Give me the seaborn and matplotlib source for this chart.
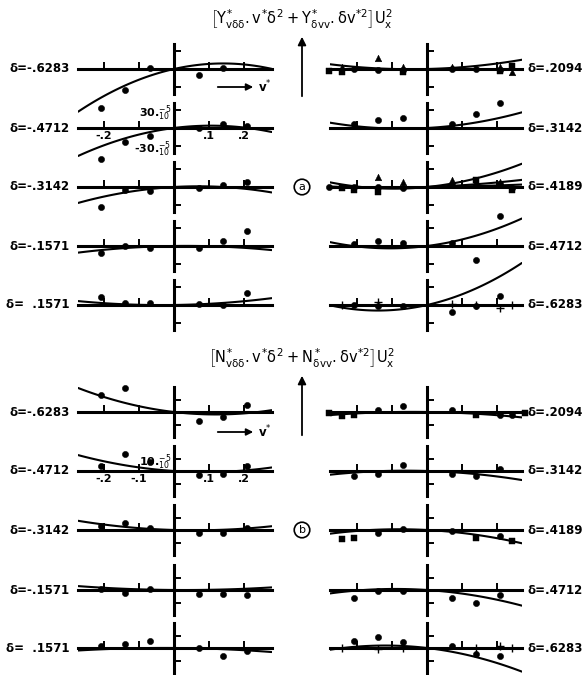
import numpy as np
import seaborn as sns
import matplotlib.pyplot as plt
from matplotlib.patches import FancyArrowPatch

sns.set_theme(style="white")
plt.rcParams["font.family"] = ["DejaVu Sans"]
plt.rcParams["mathtext.fontset"] = "custom"
plt.rcParams["mathtext.rm"] = "DejaVu Sans"
plt.rcParams["mathtext.it"] = "DejaVu Sans"
plt.rcParams["mathtext.bf"] = "DejaVu Sans:bold"
for k in ["text.color", "axes.labelcolor", "xtick.color", "ytick.color"]:
    plt.rcParams[k] = "black"

# DATA (y values in units of 1e-5, nan = no point)

nan = np.nan
v_grid = [-0.279, -0.244, -0.209, -0.140, -0.070, 0.070, 0.140, 0.209, 0.244, 0.279]

# model coefficients
Y_vdd, Y_dvv = 333, 745
N_vdd, N_dvv = -83, -217
# extra (flatter) fits drawn in the delta=.4189 panel of part (a)
a_p4189_extra = [(120, 200), (40, 70)]

# (a) left column
a_m6283 = [nan, nan, -65, -35, 2, -10, 2, nan, nan, nan]
a_m4712 = [nan, nan, -52, -23, -13, 0, 7, 3, nan, nan]
a_m3142 = [nan, nan, -33, -5, -7, -2, 3, 8, nan, nan]
a_m1571 = [nan, nan, -12, 0, -3, -3, 8, 25, nan, nan]
a_p1571 = [nan, nan, 13, 3, 3, 2, 0, 20, nan, nan]
# (a) right column
a_p2094_dot = [nan, nan, 0, -2, -2, 0, 0, -2, nan, nan]
a_p2094_tri = [nan, 3, nan, 18, 3, 3, nan, 3, -5, nan]
a_p2094_sq = [-3, -5, nan, nan, -5, nan, nan, -3, 5, nan]
a_p3142_dot = [nan, nan, 7, 13, 17, 7, 23, 42, nan, nan]
a_p4189_dot = [0, nan, 0, 0, -2, 3, 3, 5, -2, nan]
a_p4189_tri = [nan, nan, nan, 17, 8, 12, nan, 8, nan, nan]
a_p4189_sq = [nan, -2, -5, -8, nan, nan, 12, nan, -5, nan]
a_p4712_dot = [nan, nan, 3, 8, 5, 5, -23, 50, nan, nan]
a_p6283_dot = [nan, nan, 0, -2, -2, -12, -2, 15, nan, nan]
a_p6283_plus = [nan, 0, nan, 5, nan, 2, 0, -5, 0, nan]

# (b) left column
b_m6283 = [nan, nan, 14, 19, nan, -7, -4, 6, nan, nan]
b_m4712 = [nan, nan, 4, 14, 7, -3, -2, 4, nan, nan]
b_m3142 = [nan, nan, 3, 6, 2, -2, -2, 2, nan, nan]
b_m1571 = [nan, nan, 1, -2, 1, -3, -3, -4, nan, nan]
b_p1571 = [nan, nan, 2, 3, 6, 0, -6, -2, nan, nan]
# (b) right column
b_p2094_dot = [nan, nan, nan, 2, 5, 2, nan, -2, -2, nan]
b_p2094_sq = [-1, -3, -2, nan, nan, nan, -2, nan, nan, -1]
b_p3142_dot = [nan, nan, -4, -2, 5, -2, -4, 2, nan, nan]
b_p4189_dot = [nan, nan, nan, -2, 1, -1, nan, -5, nan, nan]
b_p4189_sq = [nan, -7, -6, nan, nan, nan, -6, nan, -9, nan]
b_p4712_dot = [nan, nan, -6, -1, -1, -6, -10, -4, nan, nan]
b_p6283_dot = [nan, nan, 6, 9, 5, 2, -5, -6, nan, nan]
b_p6283_plus = [nan, 0, nan, -1, 0, nan, 0, 2, 0, nan]

# LAYOUT (pixels of the 586x675 picture)

W, H = 586, 675
PX_PER_V = 350  # pixels per unit of v*
col_x = [174, 427]
col_xlim = [(-0.274, 0.279), (-0.277, 0.271)]
rows = {"a": [69, 128, 187, 246, 305], "b": [412, 471, 530, 590, 648]}
part_cfg = {
    "a": dict(ppu=0.6, ylim=80, tick=30, spine=42, coef=(Y_vdd, Y_dvv)),
    "b": dict(ppu=1.25, ylim=36, tick=10, spine=20, coef=(N_vdd, N_dvv)),
}

panels = [
    ("a", 0, 0, -0.6283, "δ=-.6283", {"o": a_m6283}),
    ("a", 0, 1, -0.4712, "δ=-.4712", {"o": a_m4712}),
    ("a", 0, 2, -0.3142, "δ=-.3142", {"o": a_m3142}),
    ("a", 0, 3, -0.1571, "δ=-.1571", {"o": a_m1571}),
    ("a", 0, 4, 0.1571, "δ=  .1571", {"o": a_p1571}),
    ("a", 1, 0, 0.2094, "δ=.2094", {"o": a_p2094_dot, "^": a_p2094_tri, "s": a_p2094_sq}),
    ("a", 1, 1, 0.3142, "δ=.3142", {"o": a_p3142_dot}),
    ("a", 1, 2, 0.4189, "δ=.4189", {"o": a_p4189_dot, "^": a_p4189_tri, "s": a_p4189_sq}),
    ("a", 1, 3, 0.4712, "δ=.4712", {"o": a_p4712_dot}),
    ("a", 1, 4, 0.6283, "δ=.6283", {"o": a_p6283_dot, "+": a_p6283_plus}),
    ("b", 0, 0, -0.6283, "δ=-.6283", {"o": b_m6283}),
    ("b", 0, 1, -0.4712, "δ=-.4712", {"o": b_m4712}),
    ("b", 0, 2, -0.3142, "δ=-.3142", {"o": b_m3142}),
    ("b", 0, 3, -0.1571, "δ=-.1571", {"o": b_m1571}),
    ("b", 0, 4, 0.1571, "δ=  .1571", {"o": b_p1571}),
    ("b", 1, 0, 0.2094, "δ=.2094", {"o": b_p2094_dot, "s": b_p2094_sq}),
    ("b", 1, 1, 0.3142, "δ=.3142", {"o": b_p3142_dot}),
    ("b", 1, 2, 0.4189, "δ=.4189", {"o": b_p4189_dot, "s": b_p4189_sq}),
    ("b", 1, 3, 0.4712, "δ=.4712", {"o": b_p4712_dot}),
    ("b", 1, 4, 0.6283, "δ=.6283", {"o": b_p6283_dot, "+": b_p6283_plus}),
]
extra_curves = {("a", 1, 2): a_p4189_extra}

marker_kw = {
    "o": dict(marker="o", s=20),
    "^": dict(marker="^", s=22),
    "s": dict(marker="s", s=16),
    "+": dict(marker="+", s=30, linewidth=1.0),
}

# FIGURE

fig = plt.figure(figsize=(W / 100, H / 100), dpi=100)


def fx(x):
    return x / W


def fy(y):
    return 1 - y / H


for part, col, row, delta, label, series in panels:
    cfg = part_cfg[part]
    base = rows[part][row]
    x0, x1 = col_xlim[col]
    half = cfg["ylim"] * cfg["ppu"]
    left = col_x[col] + x0 * PX_PER_V
    ax = fig.add_axes([fx(left), (H - base - half) / H, (x1 - x0) * PX_PER_V / W, 2 * half / H])
    ax.set_xlim(x0, x1)
    ax.set_ylim(-cfg["ylim"], cfg["ylim"])
    ax.patch.set_alpha(0)

    # axes drawn as crossing lines through the origin
    for s in ["top", "right"]:
        ax.spines[s].set_visible(False)
    ax.spines["bottom"].set_position(("data", 0))
    ax.spines["left"].set_position(("data", 0))
    ax.spines["left"].set_bounds(-cfg["spine"], cfg["spine"])
    for s in ["bottom", "left"]:
        ax.spines[s].set_linewidth(2.2)
        ax.spines[s].set_color("black")
    ax.set_xticks([-0.2, -0.1, 0.1, 0.2])
    ax.set_yticks([-cfg["tick"], cfg["tick"]])
    ax.tick_params(axis="x", bottom=True, direction="in", length=5, width=1.4,
                   labelbottom=False, labelsize=8, pad=2)
    ax.tick_params(axis="y", left=True, direction="in", length=5, width=1.4,
                   labelleft=False, labelsize=8, pad=2)

    # fitted curves
    vv = np.linspace(x0, x1, 120)
    for cv, cd in [cfg["coef"]] + extra_curves.get((part, col, row), []):
        c1 = cv * delta ** 2
        c2 = cd * delta
        sns.lineplot(x=vv, y=c1 * vv + c2 * vv ** 2, ax=ax, color="black", linewidth=1.5)

    # measured points
    for m, yv in series.items():
        sns.scatterplot(x=v_grid, y=yv, ax=ax, color="black", edgecolor="black",
                        clip_on=False, zorder=4, **marker_kw[m])

    # delta label
    if col == 0:
        ax.text(-0.045, 0, label, transform=ax.get_yaxis_transform(), ha="right",
                va="center", fontsize=8.5, fontweight="bold")
    else:
        ax.text(1.03, 0, label, transform=ax.get_yaxis_transform(), ha="left",
                va="center", fontsize=8.5, fontweight="bold")

    # scale labels on the second panel of each part
    if col == 0 and row == 1:
        ax.tick_params(axis="x", labelbottom=True)
        ax.tick_params(axis="y", labelleft=True)
        if part == "a":
            ax.set_xticklabels(["-.2", "", ".1", ".2"], fontweight="bold")
            ax.set_yticklabels([r"-30.$_{10}^{-5}$", r"30.$_{10}^{-5}$"], fontweight="bold")
        else:
            ax.set_xticklabels(["-.2", "-.1", ".1", ".2"], fontweight="bold")
            ax.set_yticklabels(["", r"10.$_{10}^{-5}$"], fontweight="bold")

# titles, arrows and part marks
titles = {
    "a": r"$\left[Y^{*}_{v\delta\delta}{.}v^{*}\delta^{2}+Y^{*}_{\delta vv}{.}\delta v^{*2}\right]U_{x}^{2}$",
    "b": r"$\left[N^{*}_{v\delta\delta}{.}v^{*}\delta^{2}+N^{*}_{\delta vv}{.}\delta v^{*2}\right]U_{x}^{2}$",
}
title_y = {"a": 19, "b": 358}
for part in ["a", "b"]:
    ty = title_y[part]
    fig.text(fx(302), fy(ty), titles[part], ha="center", va="center", fontsize=10.5)
    fig.add_artist(FancyArrowPatch(
        (fx(302), fy(ty + 80)), (fx(302), fy(ty + 15)), transform=fig.transFigure,
        arrowstyle="-|>", mutation_scale=12, lw=1.3, color="black"))
    fig.text(fx(302), fy(rows[part][2]), part, ha="center", va="center", fontsize=8,
             bbox=dict(boxstyle="circle,pad=0.25", fc="white", ec="black", lw=1.2))
    # v* direction arrow
    ay = rows[part][0] + (18 if part == "a" else 20)
    fig.add_artist(FancyArrowPatch(
        (fx(215), fy(ay)), (fx(256), fy(ay)), transform=fig.transFigure,
        arrowstyle="-|>", mutation_scale=10, lw=1.3, color="black"))
    fig.text(fx(258), fy(ay), r"v$^{*}$", ha="left", va="center", fontsize=8.5,
             fontweight="bold")

fig.savefig("out.png", dpi=100, facecolor="white")
